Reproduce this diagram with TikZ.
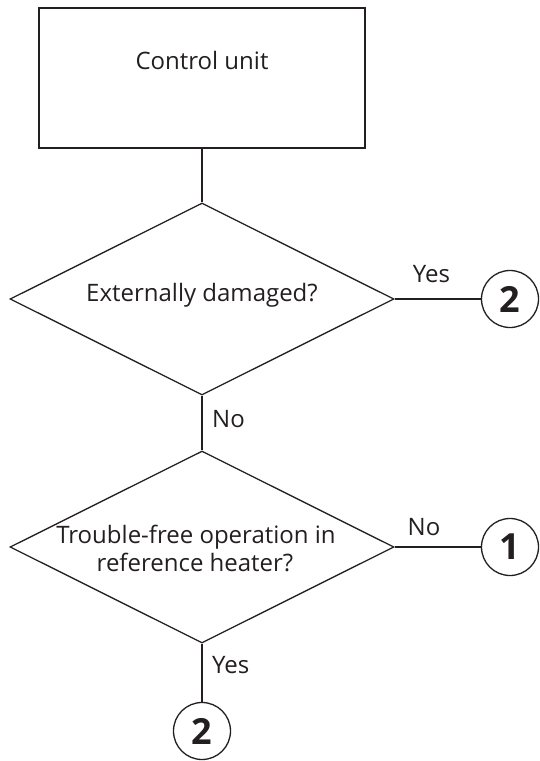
\documentclass[tikz,border=0pt]{standalone}
\usepackage{fontspec}
\setmainfont{Open Sans}
\usetikzlibrary{shapes.geometric}
\definecolor{ink}{HTML}{231F20}
\begin{document}
\begin{tikzpicture}[x=1pt,y=-1pt,
  line/.style={draw=ink,line width=1.3pt},
  boxshape/.style={draw=ink,line width=1.6pt,rectangle,minimum width=326pt,minimum height=140pt,inner sep=0pt},
  decision/.style={draw=ink,line width=1.3pt,diamond,minimum width=384pt,minimum height=192pt,inner sep=0pt},
  connector/.style={draw=ink,line width=1.3pt,circle,minimum size=57pt,inner sep=0pt,font=\fontsize{36}{40}\selectfont\bfseries,text=ink},
  txt/.style={font=\fontsize{24}{28}\selectfont,text=ink,inner sep=0pt,anchor=base,align=center}]
\useasboundingbox (0,0) rectangle (539,761);
\node[boxshape] (cu) at (202,78) {};
\node[txt] (cut) at (202,69) {Control unit};
\node[decision] (d1) at (202,299) {};
\node[txt] (d1t) at (202,301) {Externally damaged?};
\node[decision] (d2) at (202,547) {};
\node[txt] (d2t) at (196,543) {Trouble-free operation in};
\node[txt] (d2u) at (195,571) {reference heater?};
\node[connector] (c2a) at (510,299) {2};
\node[connector] (c1) at (510,547) {1};
\node[connector] (c2b) at (202,731) {2};
\draw[line] (cu.south) -- (d1.north);
\draw[line] (d1.east) -- (c2a.west);
\draw[line] (d1.south) -- (d2.north);
\draw[line] (d2.east) -- (c1.west);
\draw[line] (d2.south) -- (c2b.north);
\node[txt] (l1) at (431.5,282) {Yes};
\node[txt,anchor=base west] (l2) at (212,427) {No};
\node[txt] (l3) at (424,535) {No};
\node[txt,anchor=base west] (l4) at (212,673) {Yes};
\end{tikzpicture}
\end{document}
